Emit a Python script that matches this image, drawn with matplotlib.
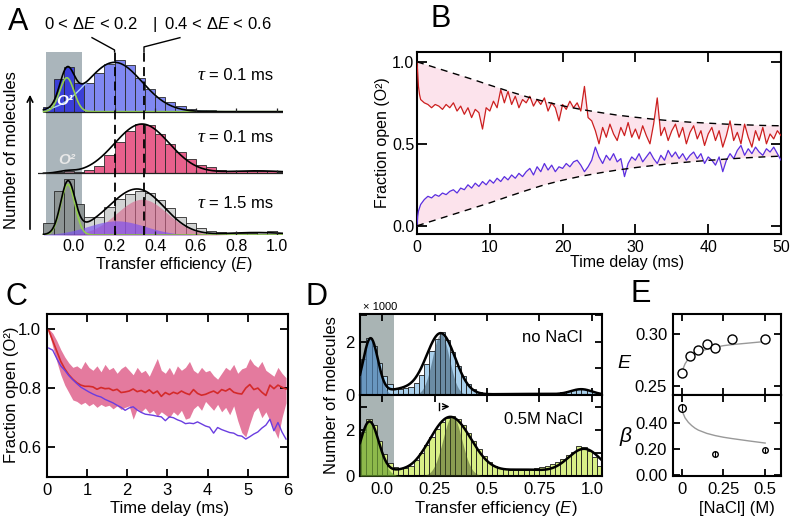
import numpy as np
import matplotlib
matplotlib.use('Agg')
import matplotlib.pyplot as plt

plt.rcParams['font.family'] = ['Liberation Sans', 'DejaVu Sans']
plt.rcParams['mathtext.fontset'] = 'custom'
plt.rcParams['mathtext.rm'] = 'Liberation Sans'
plt.rcParams['mathtext.it'] = 'Liberation Sans:italic'
plt.rcParams['mathtext.bf'] = 'Liberation Sans:bold'

# ---------------- DATA ----------------
# Panel A: histograms (bin centers, width 0.05), heights in panel units
A_centers = [-0.125, -0.075, -0.025, 0.025, 0.075, 0.125, 0.175, 0.225, 0.275, 0.325,
             0.375, 0.425, 0.475, 0.525, 0.575, 0.625, 0.675, 0.725, 0.775, 0.825,
             0.875, 0.925, 0.975, 1.025]
A_top = [0.08, 0.53, 0.72, 0.46, 0.47, 0.63, 0.77, 0.83, 0.75, 0.55,
         0.37, 0.24, 0.15, 0.09, 0.05, 0.03, 0.02, 0.015, 0.01, 0.01,
         0.01, 0.01, 0.01, 0.0]
A_mid = [0.0, 0.02, 0.03, 0.02, 0.05, 0.12, 0.30, 0.50, 0.68, 0.80,
         0.79, 0.64, 0.48, 0.34, 0.23, 0.14, 0.10, 0.06, 0.04, 0.04,
         0.03, 0.04, 0.03, 0.02]
A_bot = [0.20, 0.72, 0.90, 0.50, 0.30, 0.30, 0.45, 0.58, 0.67, 0.71,
         0.68, 0.57, 0.43, 0.30, 0.19, 0.11, 0.07, 0.05, 0.04, 0.04,
         0.03, 0.05, 0.06, 0.03]
# Gaussian fit components (amplitude, center, sigma)
A_top_green = (0.55, -0.035, 0.035)
A_top_blue = (0.80, 0.20, 0.135)
A_mid_fit = [(0.80, 0.335, 0.135), (0.03, -0.04, 0.04), (0.04, 0.9, 0.15)]
A_bot_green = (0.82, -0.03, 0.035)
A_bot_blue = (0.23, 0.21, 0.14)
A_bot_pink = (0.58, 0.335, 0.125)
A_bot_tail = (0.04, 0.9, 0.15)
A_ticks = [0.0, 0.2, 0.4, 0.6, 0.8, 1.0]
A_ticklabels = ['0.0', '0.2', '0.4', '0.6', '0.8', '1.0']
A_dE_lines = [0.2, 0.345]
A_tau = ['0.1 ms', '0.1 ms', '1.5 ms']

# Panel B: fraction open vs time delay
B_t = [0.0, 0.1, 0.2, 0.35] + [0.5 * k for k in range(1, 101)]
B_red = [1.0, 0.93, 0.85, 0.80,
         0.77, 0.75, 0.74, 0.72, 0.74, 0.73, 0.71, 0.74, 0.72, 0.75,
         0.70, 0.73, 0.68, 0.72, 0.66, 0.71, 0.69, 0.59, 0.72, 0.70,
         0.76, 0.72, 0.83, 0.75, 0.82, 0.74, 0.79, 0.72, 0.77, 0.75,
         0.79, 0.73, 0.77, 0.74, 0.78, 0.70, 0.75, 0.72, 0.64, 0.74,
         0.71, 0.76, 0.72, 0.75, 0.70, 0.85, 0.66, 0.64, 0.58, 0.50,
         0.60, 0.54, 0.62, 0.56, 0.52, 0.60, 0.55, 0.63, 0.54, 0.59,
         0.53, 0.61, 0.55, 0.50, 0.62, 0.78, 0.55, 0.60, 0.52, 0.58,
         0.62, 0.54, 0.60, 0.50, 0.57, 0.61, 0.53, 0.58, 0.49, 0.56,
         0.60, 0.52, 0.58, 0.48, 0.55, 0.64, 0.52, 0.57, 0.50, 0.62,
         0.54, 0.48, 0.58, 0.52, 0.60, 0.50, 0.56, 0.53, 0.58, 0.55]
B_blue = [0.0, 0.06, 0.09, 0.11,
          0.13, 0.16, 0.18, 0.17, 0.19, 0.18, 0.20, 0.19, 0.21, 0.22,
          0.20, 0.23, 0.22, 0.25, 0.23, 0.26, 0.24, 0.27, 0.25, 0.28,
          0.26, 0.29, 0.27, 0.30, 0.28, 0.31, 0.29, 0.32, 0.30, 0.33,
          0.35, 0.31, 0.36, 0.33, 0.38, 0.34, 0.37, 0.33, 0.36, 0.35,
          0.38, 0.36, 0.39, 0.40, 0.37, 0.33, 0.36, 0.40, 0.48, 0.42,
          0.38, 0.43, 0.40, 0.44, 0.39, 0.41, 0.30, 0.38, 0.42, 0.40,
          0.44, 0.39, 0.42, 0.45, 0.41, 0.38, 0.43, 0.40, 0.46, 0.42,
          0.45, 0.41, 0.44, 0.40, 0.43, 0.45, 0.41, 0.44, 0.38, 0.42,
          0.40, 0.37, 0.42, 0.33, 0.40, 0.44, 0.41, 0.46, 0.49, 0.43,
          0.47, 0.44, 0.48, 0.45, 0.43, 0.47, 0.45, 0.48, 0.44, 0.40]
B_fit_t = [2.5 * k for k in range(21)]
B_fit_upper = [1.0, 0.965, 0.93, 0.895, 0.858, 0.822, 0.788, 0.758, 0.732, 0.71, 0.692,
               0.675, 0.662, 0.65, 0.64, 0.632, 0.626, 0.62, 0.616, 0.612, 0.61]
B_fit_lower = [0.0, 0.035, 0.07, 0.105, 0.14, 0.178, 0.215, 0.25, 0.278, 0.302, 0.322,
               0.34, 0.355, 0.368, 0.38, 0.39, 0.399, 0.407, 0.414, 0.42, 0.425]

# Panel C
C_t = [0.05 + 0.1 * k for k in range(60)]
C_red = [0.995, 0.96, 0.925, 0.89, 0.865, 0.845, 0.83, 0.818, 0.81, 0.806,
         0.806, 0.804, 0.796, 0.802, 0.798, 0.799, 0.792, 0.796, 0.785, 0.787,
         0.79, 0.797, 0.788, 0.792, 0.785, 0.794, 0.782, 0.79, 0.772, 0.785,
         0.778, 0.786, 0.781, 0.79, 0.783, 0.778, 0.795, 0.782, 0.776, 0.779,
         0.785, 0.79, 0.782, 0.795, 0.79, 0.798, 0.786, 0.782, 0.78, 0.80,
         0.812, 0.795, 0.80, 0.786, 0.775, 0.81, 0.798, 0.81, 0.803, 0.797]
C_upper = [1.0, 0.985, 0.96, 0.93, 0.905, 0.885, 0.87, 0.875, 0.865, 0.89,
           0.87, 0.86, 0.875, 0.855, 0.88, 0.862, 0.87, 0.85, 0.866, 0.875,
           0.86, 0.845, 0.87, 0.852, 0.86, 0.84, 0.87, 0.90, 0.86, 0.85,
           0.87, 0.845, 0.875, 0.86, 0.87, 0.89, 0.86, 0.85, 0.87, 0.855,
           0.86, 0.842, 0.83, 0.85, 0.87, 0.86, 0.88, 0.85, 0.865, 0.87,
           0.90, 0.88, 0.87, 0.89, 0.86, 0.85, 0.84, 0.87, 0.85, 0.835]
C_lower = [0.99, 0.94, 0.89, 0.845, 0.81, 0.785, 0.76, 0.755, 0.745, 0.752,
           0.74, 0.748, 0.735, 0.745, 0.738, 0.742, 0.73, 0.74, 0.728, 0.735,
           0.74, 0.695, 0.73, 0.72, 0.733, 0.715, 0.725, 0.705, 0.72, 0.71,
           0.70, 0.72, 0.708, 0.725, 0.695, 0.70, 0.73, 0.742, 0.725, 0.755,
           0.74, 0.725, 0.745, 0.72, 0.735, 0.71, 0.74, 0.69, 0.65, 0.635,
           0.68, 0.72, 0.735, 0.70, 0.72, 0.69, 0.66, 0.63, 0.70, 0.75]
C_blue = [0.935, 0.928, 0.90, 0.875, 0.86, 0.842, 0.828, 0.815, 0.803, 0.795,
          0.787, 0.78, 0.774, 0.77, 0.762, 0.756, 0.75, 0.742, 0.735, 0.725,
          0.733, 0.737, 0.726, 0.718, 0.712, 0.71, 0.708, 0.705, 0.703, 0.69,
          0.703, 0.70, 0.693, 0.688, 0.68, 0.682, 0.68, 0.686, 0.679, 0.672,
          0.668, 0.648, 0.667, 0.66, 0.655, 0.65, 0.648, 0.64, 0.638, 0.628,
          0.636, 0.645, 0.652, 0.665, 0.675, 0.695, 0.656, 0.684, 0.652, 0.628]

# Panel D: histograms (x1000), bin width 0.025
D_centers = [-0.0875 + 0.025 * k for k in range(46)]
D_top = [1.35, 2.15, 1.85, 1.20, 0.70, 0.40, 0.28, 0.22, 0.25, 0.30,
         0.45, 0.75, 1.15, 1.65, 2.10, 2.35, 2.05, 1.60, 1.10, 0.70,
         0.40, 0.22, 0.13, 0.08, 0.06, 0.05, 0.04, 0.03, 0.03, 0.03,
         0.03, 0.03, 0.03, 0.04, 0.04, 0.05, 0.06, 0.08, 0.11, 0.15,
         0.19, 0.22, 0.22, 0.18, 0.12, 0.06]
D_bot = [1.90, 2.45, 2.20, 1.50, 0.95, 0.55, 0.40, 0.33, 0.35, 0.45,
         0.70, 1.00, 1.35, 1.70, 2.05, 2.35, 2.50, 2.60, 2.45, 2.20,
         1.85, 1.50, 1.15, 0.85, 0.60, 0.45, 0.35, 0.30, 0.28, 0.27,
         0.27, 0.28, 0.30, 0.33, 0.37, 0.42, 0.50, 0.60, 0.75, 0.90,
         1.05, 1.30, 1.25, 1.10, 0.80, 0.45]
D_top_fit = [(2.1, -0.055, 0.035), (2.3, 0.28, 0.068), (0.22, 0.1, 0.08),
             (0.04, 0.7, 0.2), (0.2, 0.95, 0.05)]
D_top_left = (2.1, -0.055, 0.035)
D_top_narrow = (2.3, 0.28, 0.04)
D_bot_fit = [(2.35, -0.06, 0.045), (2.55, 0.325, 0.10), (0.15, 0.07, 0.05),
             (0.27, 0.68, 0.13), (1.15, 0.965, 0.08)]
D_bot_left = (2.35, -0.06, 0.045)
D_bot_narrow = (2.6, 0.335, 0.045)
D_xticks = [0.0, 0.25, 0.5, 0.75, 1.0]
D_xticklabels = ['0.0', '0.25', '0.5', '0.75', '1.0']

# Panel E
E_nacl = [0.0, 0.05, 0.1, 0.15, 0.2, 0.3, 0.5]
E_eff = [0.262, 0.279, 0.284, 0.290, 0.286, 0.295, 0.295]
E_fit_x = [0.0, 0.01, 0.02, 0.04, 0.06, 0.08, 0.1, 0.15, 0.2, 0.25, 0.3, 0.4, 0.5]
E_fit_eff = [0.262, 0.267, 0.271, 0.276, 0.279, 0.281, 0.2825, 0.285, 0.287, 0.2885,
             0.2895, 0.291, 0.2925]
beta_nacl = [0.0, 0.2, 0.5]
beta_val = [0.52, 0.16, 0.19]
beta_err = [0.03, 0.02, 0.02]
beta_fit = [0.50, 0.47, 0.44, 0.405, 0.38, 0.36, 0.345, 0.32, 0.303, 0.29, 0.28,
            0.262, 0.245]

# ---------------- FIGURE ----------------
W, H = 793, 520
fig = plt.figure(figsize=(W / 100, H / 100), dpi=100)


def add_ax(l, t, r, b):
    return fig.add_axes([l / W, 1 - b / H, (r - l) / W, (b - t) / H])


def ftext(x, y, s, **kw):
    kw.setdefault('ha', 'center')
    kw.setdefault('va', 'center')
    return fig.text(x / W, 1 - y / H, s, **kw)


def g(x, p):
    a, c, s = p
    return a * np.exp(-0.5 * ((x - c) / s) ** 2)


def style_box(ax, lw=1.5, tl=4, ls=12):
    for s in ax.spines.values():
        s.set_linewidth(lw)
    ax.tick_params(direction='in', top=True, right=True, length=tl, width=1.3,
                   labelsize=ls, pad=4)


# ---- Panel A ----
axA = add_ax(38, 50, 283, 235)
axA.set_xlim(-0.177, 1.0296)
axA.set_ylim(0, 3)
for s in axA.spines.values():
    s.set_visible(False)
axA.set_yticks([])
axA.set_xticks(A_ticks)
axA.set_xticklabels(A_ticklabels, fontsize=11.5)
axA.tick_params(axis='x', length=0, pad=3)
axA.fill_between([-0.138, 0.04], 0, 2.97, color='#aab5bb', zorder=0, lw=0)

Ex = np.linspace(-0.15, 1.03, 500)
box_r = 0.04
# top
cols = ['#3b3fd8' if c < box_r else '#8088f2' for c in A_centers]
axA.bar(A_centers, A_top, width=0.05, bottom=2, color=cols, edgecolor='#2a2a2a',
        lw=0.6, zorder=2)
axA.plot(Ex, 2 + g(Ex, A_top_blue), color='#a9d2ff', lw=1.0, zorder=4)
axA.plot(Ex, 2 + g(Ex, A_top_green), color='#93d04c', lw=1.2, zorder=4)
axA.plot(Ex, 2 + g(Ex, A_top_blue) + g(Ex, A_top_green), color='k', lw=1.2, zorder=5)
# middle
cols = ['#9c7584' if c < box_r else '#e8608c' for c in A_centers]
axA.bar(A_centers, A_mid, width=0.05, bottom=1, color=cols, edgecolor='#2a2a2a',
        lw=0.6, zorder=2)
axA.plot(Ex, 1 + sum(g(Ex, p) for p in A_mid_fit), color='k', lw=1.2, zorder=5)
# bottom
cols = ['#8e9595' if c < box_r else '#d2d4d4' for c in A_centers]
axA.bar(A_centers, A_bot, width=0.05, bottom=0, color=cols, edgecolor='#2a2a2a',
        lw=0.6, zorder=2)
axA.fill_between(Ex, 0, g(Ex, A_bot_pink), color='#d8648c', alpha=0.6, lw=0, zorder=3)
axA.fill_between(Ex, 0, g(Ex, A_bot_blue), color='#7b4ff2', alpha=0.65, lw=0, zorder=3)
axA.plot(Ex, g(Ex, A_bot_green), color='#93d04c', lw=1.2, zorder=4)
axA.plot(Ex, g(Ex, A_bot_green) + g(Ex, A_bot_blue) + g(Ex, A_bot_pink) + g(Ex, A_bot_tail),
         color='k', lw=1.2, zorder=5)
# baselines + small ticks
for base, x0 in [(2, -0.138), (1, -0.177), (0, -0.138)]:
    axA.plot([x0, 1.03], [base, base], color='#222222', lw=0.9, zorder=6)
    axA.vlines(A_ticks[1:], base, base + 0.06, color='#222222', lw=0.9, zorder=6)
# dashed lines + leaders
for xv in A_dE_lines:
    axA.plot([xv, xv], [0, 2.97], color='k', lw=1.3, ls=(0, (5, 3)), zorder=7)
axA.plot([0.2, 0.2, 0.089], [2.97, 3.0, 3.2], color='k', lw=1.0, clip_on=False, zorder=7)
axA.plot([0.345, 0.345, 0.522], [2.97, 3.05, 3.2], color='k', lw=1.0, clip_on=False, zorder=7)

ftext(91, 24, r'0 < Δ$E$ < $\mathit{0.2}$', fontsize=12)
ftext(155, 24, '|', fontsize=12)
ftext(218, 24, r'0.4 < Δ$E$ < $\mathit{0.6}$', fontsize=12)
for yy, lab in zip([76, 138, 203], A_tau):
    ftext(201, yy, 'τ', fontsize=14, family='Liberation Serif', style='italic')
    ftext(209, yy, '= ' + lab, fontsize=12, ha='left')
ftext(65, 101, 'O¹', fontsize=11, color='white', style='italic', weight='bold')
ftext(67, 160, 'O²', fontsize=11, color='#e8e8e8', style='italic', weight='bold')
ftext(174, 265, r'Transfer efficiency ($E$)', fontsize=11.5)
ftext(12, 150, 'Number of molecules', fontsize=12, rotation=90)
axA.annotate('', xy=(30, H - 92), xytext=(30, H - 232), xycoords='figure pixels',
             textcoords='figure pixels', arrowprops=dict(arrowstyle='->', lw=1.2, color='k'))
ftext(18, 22, 'A', fontsize=22)

# ---- Panel B ----
axB = add_ax(417, 52, 781, 234)
axB.set_xlim(0, 50)
axB.set_ylim(-0.05, 1.06)
tB = np.array(B_t)
tf = np.array(B_fit_t)
axB.fill(np.concatenate([tB, tf[::-1]]), np.concatenate([B_red, np.array(B_fit_upper)[::-1]]),
         color='#fce3ec', lw=0, zorder=1)
axB.fill(np.concatenate([tB, tf[::-1]]), np.concatenate([B_blue, np.array(B_fit_lower)[::-1]]),
         color='#fce3ec', lw=0, zorder=1)
axB.plot(tB, B_red, color='#cc1f1f', lw=0.9, zorder=3)
axB.plot(tB, B_blue, color='#5a2ee0', lw=0.9, zorder=3)
axB.plot(tf, B_fit_upper, color='k', lw=1.0, ls=(0, (5, 4)), zorder=4)
axB.plot(tf, B_fit_lower, color='k', lw=1.0, ls=(0, (5, 4)), zorder=4)
axB.set_xticks([0, 10, 20, 30, 40, 50])
axB.set_yticks([0, 0.5, 1.0])
axB.set_yticklabels(['0.0', '0.5', '1.0'])
style_box(axB, tl=7, ls=11.5)
axB.tick_params(axis='y', pad=2)
ftext(627, 263, 'Time delay (ms)', fontsize=11.5)
ftext(383, 143, 'Fraction open (O²)', fontsize=11.5, rotation=90)
ftext(441, 19, 'B', fontsize=22)

# ---- Panel C ----
axC = add_ax(46.7, 314, 288, 477)
axC.set_xlim(0, 6)
axC.set_ylim(0.5, 1.05)
axC.fill_between(C_t, C_lower, C_upper, color='#e47a9e', lw=0, zorder=1)
axC.plot(C_t, C_red, color='#d42a2a', lw=1.2, zorder=3)
axC.plot(C_t, C_blue, color='#6a3de0', lw=1.0, zorder=3)
axC.set_xticks(range(7))
axC.set_yticks([0.6, 0.8, 1.0])
axC.set_yticklabels(['0.6', '0.8', '1.0'])
style_box(axC, tl=6)
ftext(170, 508, 'Time delay (ms)', fontsize=12)
ftext(12, 395, 'Fraction open (O²)', fontsize=12, rotation=90)
ftext(16, 297, 'C', fontsize=22)

# ---- Panel D ----
axDt = add_ax(360, 314, 602, 395)
axDb = add_ax(360, 395, 602, 476)
Dx = np.linspace(-0.105, 1.048, 500)
for ax, vals, fit, left, narrow, barc, leftc, narc, ymax in [
        (axDt, D_top, D_top_fit, D_top_left, D_top_narrow, '#a9d0ec', '#4f7fae', '#2f4a5e', 3.04),
        (axDb, D_bot, D_bot_fit, D_bot_left, D_bot_narrow, '#d8ef86', '#6da333', '#3d4a1e', 3.5)]:
    ax.set_xlim(-0.105, 1.048)
    ax.set_ylim(0, ymax)
    ax.axvspan(-0.105, 0.057, color='#a9b4b4', lw=0, zorder=0)
    ax.bar(D_centers, vals, width=0.025, color=barc, edgecolor='#1a1a1a', lw=0.6, zorder=2)
    ax.fill_between(Dx, 0, g(Dx, left), color=leftc, alpha=0.7, lw=0, zorder=3)
    ax.fill_between(Dx, 0, g(Dx, narrow), color=narc, alpha=0.5, lw=0, zorder=3)
    ax.plot(Dx, sum(g(Dx, p) for p in fit), color='k', lw=1.8, zorder=5)
    ax.set_yticks([0, 1, 2, 3])
    ax.set_yticklabels(['0', '', '2', ''])
    ax.set_xticks(D_xticks)
    style_box(ax, tl=5)
axDt.set_xticklabels([])
axDb.set_xticklabels(D_xticklabels)
axDb.plot([0.273, 0.273], [2.85, 3.15], color='k', lw=1.0, zorder=6)
axDb.annotate('', xy=(0.335, 3.0), xytext=(0.275, 3.0),
              arrowprops=dict(arrowstyle='->', lw=1.0, color='k'), zorder=6)
ftext(380, 307, '× 1000', fontsize=8)
ftext(552, 337, 'no NaCl', fontsize=12)
ftext(543, 420, '0.5M NaCl', fontsize=12)
ftext(496, 508, r'Transfer efficiency ($E$)', fontsize=12)
ftext(332, 395, 'Number of molecules', fontsize=12, rotation=90)
ftext(317, 297, 'D', fontsize=22)

# ---- Panel E ----
axEt = add_ax(672.7, 314, 781, 395)
axEb = add_ax(672.7, 395, 781, 476)
for ax in (axEt, axEb):
    ax.set_xlim(-0.054, 0.595)
    ax.set_xticks([0, 0.25, 0.5])
    style_box(ax, tl=5)
axEt.set_ylim(0.241, 0.319)
axEt.set_yticks([0.25, 0.30])
axEt.set_yticklabels(['0.25', '0.30'])
axEt.set_xticklabels([])
axEt.plot(E_fit_x, E_fit_eff, color='#999999', lw=1.0, zorder=2)
axEt.plot(E_nacl, E_eff, 'o', ms=6.5, mfc='white', mec='k', mew=1.0, zorder=3)
axEb.set_ylim(-0.01, 0.617)
axEb.set_yticks([0, 0.2, 0.4])
axEb.set_yticklabels(['0.00', '0.20', '0.40'])
axEb.set_xticklabels(['0', '0.25', '0.5'])
axEb.plot(E_fit_x, beta_fit, color='#999999', lw=1.0, zorder=2)
axEb.plot(beta_nacl[:1], beta_val[:1], 'o', ms=5.5, mfc='white', mec='k', mew=1.0, zorder=3)
axEb.plot(beta_nacl[1:], beta_val[1:], 'o', ms=4, mfc='white', mec='k', mew=1.0, zorder=3)
axEb.errorbar(beta_nacl, beta_val, yerr=beta_err, fmt='none', ecolor='k', elinewidth=0.8,
              capsize=0, zorder=4)
ftext(625, 363, r'$E$', fontsize=14)
ftext(625, 437, 'β', fontsize=15, style='italic')
ftext(737, 508, '[NaCl] (M)', fontsize=12)
ftext(641, 294, 'E', fontsize=22)

fig.savefig('out.png', dpi=100)
